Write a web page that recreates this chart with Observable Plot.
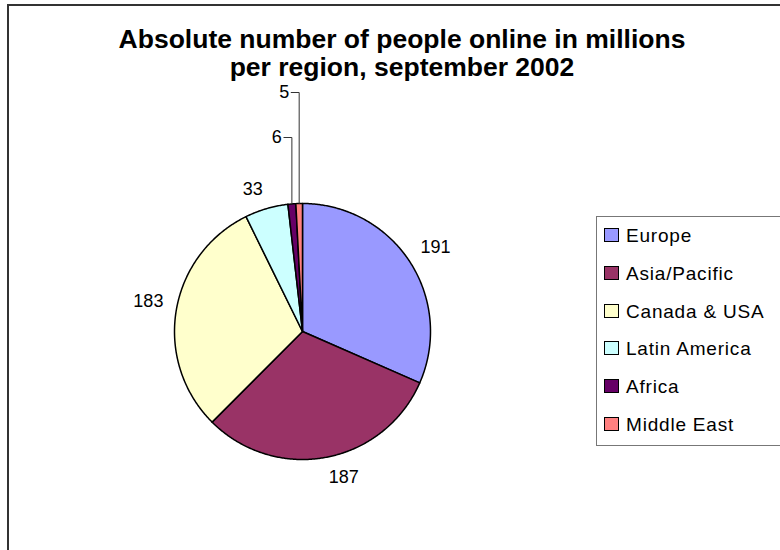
<!DOCTYPE html>
<html>
<head>
<meta charset="utf-8">
<script src="https://cdn.jsdelivr.net/npm/d3@7"></script>
<script src="https://cdn.jsdelivr.net/npm/@observablehq/plot@0.6"></script>
<style>
  html, body { margin: 0; padding: 0; background: #fff; overflow: hidden; }
  #wrap { position: relative; width: 780px; height: 550px; overflow: hidden; font-family: Arial, "Liberation Sans", sans-serif; }
  #chart { position: absolute; left: 0; top: 0; }
  #frame { position: absolute; left: 7px; top: 4px; width: 800px; height: 600px; border: 2px solid #333; box-sizing: border-box; pointer-events: none; }
  #title { position: absolute; left: 0; top: 25px; width: 804px; text-align: center; font-weight: bold; font-size: 26.5px; line-height: 28px; color: #000; }
  #legend { position: absolute; left: 596px; top: 216px; width: 200px; height: 230px; border: 1px solid #777; box-sizing: border-box; background: #fff; }
  .item { position: absolute; left: 7px; height: 22px; line-height: 22px; font-size: 19px; letter-spacing: 0.8px; white-space: nowrap; color: #000; }
  .sw { position: absolute; left: 0; top: 3px; width: 15px; height: 14px; border: 1.5px solid #000; box-sizing: border-box; }
  .lbl { position: absolute; left: 22px; top: 0; }
</style>
</head>
<body>
<div id="wrap">
  <div id="chart"></div>
  <div id="title">Absolute number of people online in millions<br>per region, september 2002</div>
  <div id="legend"></div>
  <div id="frame"></div>
</div>
<script>
// ---- data ----
const regions = ["Europe", "Asia/Pacific", "Canada & USA", "Latin America", "Africa", "Middle East"];
const users = [191, 187, 183, 33, 6, 5];
const colors = ["#9999FF", "#993366", "#FFFFCC", "#CCFFFF", "#660066", "#FF8080"];

// ---- layout ----
const W = 780, H = 550;
const cx = 302, cy = 331, R = 128;
const fontSize = 18;
const gap = 13;

const arcs = d3.pie().sort(null).value(d => d)(users);

// slice polygons
const polyPts = [];
arcs.forEach((a, i) => {
  const n = Math.max(2, Math.ceil((a.endAngle - a.startAngle) / (Math.PI / 360)));
  polyPts.push({region: regions[i], x: cx, y: cy});
  for (let k = 0; k <= n; k++) {
    const t = a.startAngle + (a.endAngle - a.startAngle) * k / n;
    polyPts.push({region: regions[i], x: cx + R * Math.sin(t), y: cy - R * Math.cos(t)});
  }
  polyPts.push({region: regions[i], x: cx, y: cy});
});

// labels: the label box corner nearest the pie sits just outside the rim
const labels = [];
const leaders = [];
let smallIdx = 0;
arcs.forEach((a, i) => {
  const mid = (a.startAngle + a.endAngle) / 2;
  const dx = Math.sin(mid), dy = -Math.cos(mid);
  const txt = String(users[i]);
  if (users[i] >= 10) {
    const w = txt.length * 0.556 * fontSize, h = 14;
    const px = cx + dx * (R + gap), py = cy + dy * (R + gap);
    labels.push({text: txt, x: px + Math.sign(dx) * w / 2, y: py + Math.sign(dy) * h / 2, anchor: "middle"});
  } else {
    const ax = cx + dx * R, ay = cy + dy * R;
    const ly = cy - R - 66 - 45 * smallIdx;
    leaders.push({region: regions[i], x: ax, y: ay});
    leaders.push({region: regions[i], x: ax, y: ly});
    leaders.push({region: regions[i], x: ax - 8, y: ly});
    labels.push({text: txt, x: ax - 10, y: ly, anchor: "end"});
    smallIdx++;
  }
});

const chart = Plot.plot({
  width: W,
  height: H,
  margin: 0,
  style: {background: "transparent", fontFamily: "Arial, 'Liberation Sans', sans-serif"},
  x: {domain: [0, W], range: [0, W], axis: null},
  y: {domain: [0, H], range: [0, H], axis: null},
  color: {domain: regions, range: colors},
  marks: [
    Plot.line(polyPts, {x: "x", y: "y", z: "region", fill: "region", stroke: "#000", strokeWidth: 1.5, strokeLinejoin: "round"}),
    Plot.line(leaders, {x: "x", y: "y", z: "region", stroke: "#333", strokeWidth: 1, strokeLinejoin: "miter"}),
    Plot.text(labels.filter(d => d.anchor === "middle"), {x: "x", y: "y", text: "text", textAnchor: "middle", fontSize: fontSize, fill: "#000"}),
    Plot.text(labels.filter(d => d.anchor === "end"), {x: "x", y: "y", text: "text", textAnchor: "end", fontSize: fontSize, fill: "#000"})
  ]
});
document.getElementById("chart").appendChild(chart);

// legend
const legend = document.getElementById("legend");
regions.forEach((r, i) => {
  const item = document.createElement("div");
  item.className = "item";
  item.style.top = (8 + i * 37.8) + "px";
  const sw = document.createElement("div");
  sw.className = "sw";
  sw.style.background = colors[i];
  const lb = document.createElement("span");
  lb.className = "lbl";
  lb.textContent = r;
  item.appendChild(sw);
  item.appendChild(lb);
  legend.appendChild(item);
});
</script>
</body>
</html>
